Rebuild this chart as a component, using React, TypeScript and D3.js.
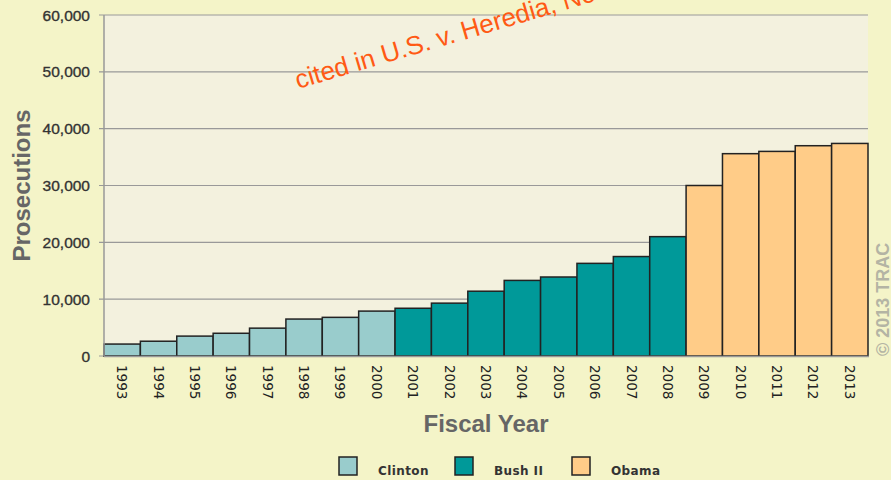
import React, { useEffect, useRef } from 'react';
import * as d3 from 'd3';

const years = ['1993', '1994', '1995', '1996', '1997', '1998', '1999', '2000', '2001', '2002', '2003',
  '2004', '2005', '2006', '2007', '2008', '2009', '2010', '2011', '2012', '2013'];
const prosecutions = [2100, 2600, 3500, 4000, 4900, 6500, 6800, 7900, 8400, 9300, 11400,
  13300, 13900, 16300, 17500, 21000, 30000, 35600, 36000, 37000, 37400];
const administrations = ['Clinton', 'Clinton', 'Clinton', 'Clinton', 'Clinton', 'Clinton', 'Clinton', 'Clinton',
  'Bush II', 'Bush II', 'Bush II', 'Bush II', 'Bush II', 'Bush II', 'Bush II', 'Bush II',
  'Obama', 'Obama', 'Obama', 'Obama', 'Obama'];
const legendNames = ['Clinton', 'Bush II', 'Obama'];
const legendColors = ['#99cccc', '#009999', '#ffcc88'];
const yTicks = [0, 10000, 20000, 30000, 40000, 50000, 60000];

const W = 891;
const H = 480;

export default function App() {
  const svgRef = useRef<SVGSVGElement>(null);

  useEffect(() => {
    if (!svgRef.current) return;
    const svg = d3.select(svgRef.current);
    svg.selectAll('*').remove();

    const left = 104, right = 868, top = 15, bottom = 356;
    const arial = 'Arial, "Liberation Sans", sans-serif';

    const x = d3.scaleBand().domain(years).range([left, right]).padding(0);
    const y = d3.scaleLinear().domain([0, 60000]).range([bottom, top]);
    const color = d3.scaleOrdinal<string>().domain(legendNames).range(legendColors);

    // page background
    svg.append('rect').attr('width', W).attr('height', H).attr('fill', '#f4f4c8');

    // plot background
    svg.append('rect')
      .attr('x', left).attr('y', top)
      .attr('width', right - left).attr('height', bottom - top)
      .attr('fill', '#f3f1de');

    // gridlines + tick labels
    const g = svg.append('g');
    yTicks.forEach(t => {
      g.append('line')
        .attr('x1', left - 5).attr('x2', right)
        .attr('y1', y(t)).attr('y2', y(t))
        .attr('stroke', '#999').attr('stroke-width', 1.2);
      g.append('text')
        .attr('x', left - 14).attr('y', y(t) + 5.5)
        .attr('text-anchor', 'end')
        .style('font-family', arial)
        .style('font-size', '15.5px')
        .style('fill', '#333')
        .style('stroke', '#333')
        .style('stroke-width', '0.35px')
        .text(d3.format(',')(t));
    });

    // watermark (under bars), runs off the top edge as in the original
    svg.append('text')
      .attr('transform', 'translate(298,89) rotate(-16.5)')
      .style('font-family', arial)
      .style('font-size', '26px')
      .style('fill', '#ff5a14')
      .text('cited in U.S. v. Heredia, No.');

    // bars
    svg.append('g').selectAll('rect')
      .data(years)
      .join('rect')
      .attr('x', d => x(d)!)
      .attr('y', (d, i) => y(prosecutions[i]))
      .attr('width', x.bandwidth())
      .attr('height', (d, i) => bottom - y(prosecutions[i]))
      .attr('fill', (d, i) => color(administrations[i]))
      .attr('stroke', '#222')
      .attr('stroke-width', 1.5);

    // axis lines
    svg.append('line')
      .attr('x1', left).attr('x2', left).attr('y1', top).attr('y2', bottom)
      .attr('stroke', '#999').attr('stroke-width', 1.5);
    svg.append('line')
      .attr('x1', left).attr('x2', right + 1).attr('y1', bottom + 0.5).attr('y2', bottom + 0.5)
      .attr('stroke', '#999').attr('stroke-width', 1.5);

    // year labels
    svg.append('g').selectAll('text')
      .data(years)
      .join('text')
      .attr('transform', d => `translate(${x(d)! + x.bandwidth() / 2 - 5},365) rotate(90)`)
      .style('font-family', '"DejaVu Sans", Verdana, sans-serif')
      .style('font-size', '13.5px')
      .style('fill', '#222')
      .text(d => d);

    // axis titles
    svg.append('text')
      .attr('transform', `translate(30,${(top + bottom) / 2}) rotate(-90)`)
      .attr('text-anchor', 'middle')
      .style('font-family', arial)
      .style('font-size', '24px')
      .style('font-weight', 'bold')
      .style('fill', '#666')
      .text('Prosecutions');
    svg.append('text')
      .attr('x', 486).attr('y', 432)
      .attr('text-anchor', 'middle')
      .style('font-family', arial)
      .style('font-size', '24px')
      .style('font-weight', 'bold')
      .style('fill', '#666')
      .text('Fiscal Year');

    // copyright
    svg.append('text')
      .attr('transform', 'translate(889,356) rotate(-90)')
      .style('font-family', arial)
      .style('font-size', '18px')
      .style('font-weight', 'bold')
      .style('fill', '#b4b4a4')
      .text('© 2013 TRAC');

    // legend
    const legendX = [339, 455, 572];
    const lg = svg.append('g');
    legendNames.forEach((name, i) => {
      lg.append('rect')
        .attr('x', legendX[i]).attr('y', 457)
        .attr('width', 18).attr('height', 18)
        .attr('fill', legendColors[i])
        .attr('stroke', '#222').attr('stroke-width', 1.5);
      lg.append('text')
        .attr('x', legendX[i] + 39).attr('y', 475)
        .style('font-family', '"DejaVu Sans", Verdana, sans-serif')
        .style('font-size', '12px')
        .style('font-weight', 'bold')
        .style('letter-spacing', '0.4px')
        .style('fill', '#333')
        .text(name);
    });
  }, []);

  return (
    <svg ref={svgRef} width={W} height={H}
      style={{ position: 'absolute', left: 0, top: 0, display: 'block' }} />
  );
}
